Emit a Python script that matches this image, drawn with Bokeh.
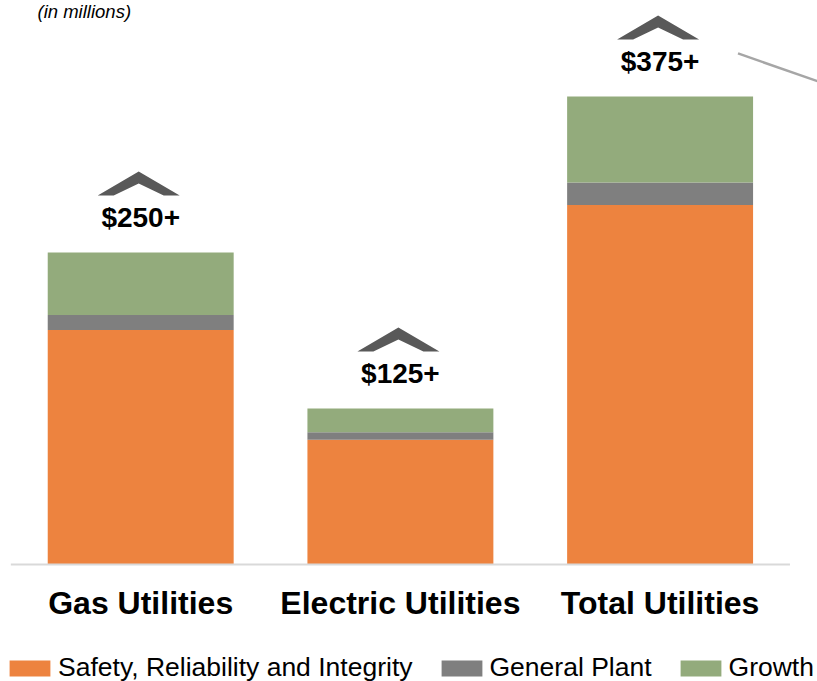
from bokeh.plotting import figure
from bokeh.models import Range1d, Legend, LegendItem, Label, ColumnDataSource
from bokeh.core.properties import value
from bokeh.embed import file_html
from bokeh.resources import INLINE

# ---- data (in millions) ----
categories = ["Gas Utilities", "Electric Utilities", "Total Utilities"]
safety = [188, 100, 288]
general_plant = [12, 6, 18]
growth = [50, 19, 69]
total_labels = ["$250+", "$125+", "$375+"]
series_names = ["Safety, Reliability and Integrity", "General Plant", "Growth"]
unit_note = "(in millions)"

# decorative connector line at top right (data coords)
connector_x = [2.30, 2.61]
connector_y = [409.5, 387.0]

# ---- layout constants ----
W, H = 817, 681
PXX = 259.7          # px per category step
PXY = 1.248          # px per million
BASE = 564           # baseline px from top
x_start = -140.2 / PXX
x_end = x_start + W / PXX
y_end = BASE / PXY
y_start = -(H - BASE) / PXY

FONT = value("Liberation Sans")
colors = ["#ED833F", "#7F7F7F", "#93AB7C"]

xs = list(range(len(categories)))
totals = [a + b + c for a, b, c in zip(safety, general_plant, growth)]

src = ColumnDataSource(dict(
    x=xs, cat=categories, safety=safety, gp=general_plant, growth=growth,
    total=totals, lbl=total_labels,
    lbl_y=[t + 28 for t in totals],
    cat_y=[-30.8] * len(categories),
))

p = figure(width=W, height=H, x_range=Range1d(x_start, x_end),
           y_range=Range1d(y_start, y_end), output_backend="svg",
           toolbar_location=None, min_border=0,
           x_axis_location=None, y_axis_location=None)
p.grid.visible = False
p.outline_line_color = None
p.background_fill_color = "white"
p.border_fill_color = "white"

renderers = p.vbar_stack(["safety", "gp", "growth"], x="x", width=0.716,
                         color=colors, line_color=None, source=src)

# baseline
p.segment(x0=-0.5, y0=0, x1=len(categories) - 0.5, y1=0,
          line_color="#D9D9D9", line_width=2)

# chevrons above each bar
hw = 41 / PXX
iw = 25 / PXX
cxs, cys = [], []
for x, t in zip(xs, totals):
    top = t + 65
    bot = top - 24 / PXY
    notch = top - 12 / PXY
    cx = x - 2 / PXX
    cxs.append([cx - hw, cx, cx + hw, cx + iw, cx, cx - iw])
    cys.append([bot, top, bot, bot, notch, bot])
p.patches(cxs, cys, fill_color="#595959", line_color=None)

# total labels
p.text(x="x", y="lbl_y", text="lbl", source=src, text_font=FONT,
       text_font_style="bold", text_font_size="28px", text_align="center",
       text_baseline="middle", text_color="black")

# category labels
p.text(x="x", y="cat_y", text="cat", source=src, text_font=FONT,
       text_font_style="bold", text_font_size="32px", text_align="center",
       text_baseline="middle", text_color="black")

# connector line
p.line(connector_x, connector_y, line_color="#A6A6A6", line_width=2.5)

# unit note
p.add_layout(Label(x=37, y=H - 10.5, x_units="screen", y_units="screen",
                   text=unit_note, text_font="Liberation Sans",
                   text_font_style="italic", text_font_size="18.5px",
                   text_baseline="middle", text_color="black"))

legend = Legend(items=[LegendItem(label=n, renderers=[r])
                       for n, r in zip(series_names, renderers)],
                orientation="horizontal", location=(4, -2),
                glyph_width=51, glyph_height=20, label_standoff=3,
                spacing=23, padding=0, margin=0,
                border_line_color=None, background_fill_alpha=0,
                label_text_font="Liberation Sans", label_text_font_size="26.5px",
                label_text_color="black")
p.add_layout(legend)

open("out.html", "w").write(file_html(p, INLINE))
